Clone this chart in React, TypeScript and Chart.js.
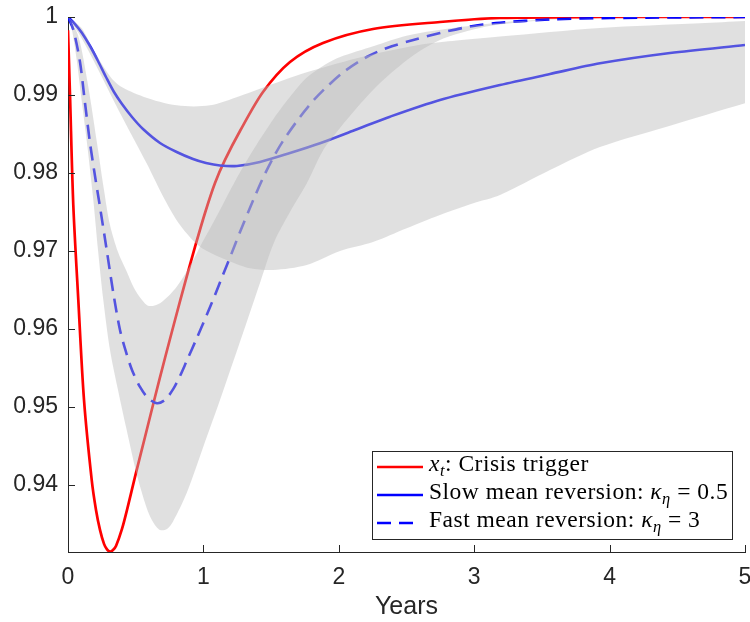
import React, { useEffect, useRef } from 'react';
import { Chart, registerables } from 'chart.js';

Chart.register(...registerables);

// ---- Data ----
// x_t: Crisis trigger
const redT = [0, 0.0148, 0.0391, 0.0761, 0.1182, 0.175, 0.2068, 0.2363, 0.2659, 0.288, 0.31, 0.332, 0.3545, 0.3988, 0.4431, 0.4948, 0.5687, 0.6425, 0.7164, 0.7903, 0.8641, 0.938, 1.0118, 1.0857, 1.1595, 1.2703, 1.4402, 1.6396, 1.8833, 2.2526, 2.7474, 3.1905, 3.929, 5];
const redV = [0.9983, 0.99, 0.9759, 0.96372, 0.9509, 0.94064, 0.93679, 0.93423, 0.93244, 0.93173, 0.93145, 0.93165, 0.93218, 0.93436, 0.93731, 0.94103, 0.94615, 0.95128, 0.95628, 0.96115, 0.9659, 0.97051, 0.97487, 0.97872, 0.98167, 0.98538, 0.99038, 0.99423, 0.99667, 0.99846, 0.99936, 0.99987, 1.0, 1.0];

// Slow mean reversion: kappa_eta = 0.5
const slowT = [0, 0.0517, 0.1034, 0.1625, 0.2216, 0.2806, 0.3397, 0.3988, 0.4727, 0.5539, 0.6795, 0.8028, 0.9232, 1.0192, 1.1226, 1.2482, 1.418, 1.6396, 1.8612, 2.1197, 2.3781, 2.7474, 3.1905, 3.5598, 3.929, 4.4461, 5];
const slowV = [1.0, 0.9991, 0.99795, 0.99628, 0.99436, 0.99231, 0.99038, 0.98885, 0.98718, 0.98564, 0.98385, 0.98269, 0.98179, 0.98128, 0.98096, 0.9809, 0.98141, 0.98256, 0.98381, 0.98551, 0.98722, 0.98936, 0.99128, 0.99269, 0.99406, 0.99538, 0.99641];

// Fast mean reversion: kappa_eta = 3
const fastT = [0, 0.0399, 0.0886, 0.1256, 0.1625, 0.1994, 0.2363, 0.2858, 0.3346, 0.384, 0.4284, 0.4727, 0.5318, 0.5908, 0.6573, 0.7164, 0.7777, 0.8272, 0.8767, 0.9453, 1.0244, 1.0857, 1.147, 1.2038, 1.2703, 1.3685, 1.4402, 1.514, 1.5879, 1.7134, 1.8095, 1.9106, 2.0458, 2.2061, 2.356, 2.5502, 2.7474, 2.9934, 3.1905, 3.5598, 4.003, 5];
const fastV = [1.0, 0.99833, 0.99423, 0.98897, 0.98385, 0.97962, 0.97564, 0.97013, 0.96462, 0.95987, 0.95705, 0.95474, 0.95256, 0.95115, 0.95047, 0.9509, 0.95231, 0.95397, 0.9559, 0.95859, 0.96179, 0.96436, 0.96705, 0.96949, 0.97244, 0.97654, 0.97936, 0.98192, 0.9841, 0.98718, 0.98923, 0.99103, 0.99308, 0.99487, 0.99603, 0.99705, 0.99795, 0.99885, 0.99927, 0.99968, 0.99987, 1.0];

// Band around the slow path
const slowUpT = [0, 0.0997, 0.1869, 0.3102, 0.384, 0.5561, 0.8028, 1.0487, 1.2703, 1.418, 1.763, 2.2001, 2.6196, 2.87, 3.1905, 3.929, 4.6676, 5];
const slowUpV = [1.0, 0.99859, 0.99579, 0.9924, 0.99115, 0.98979, 0.98867, 0.98867, 0.98987, 0.9908, 0.9929, 0.995, 0.9965, 0.997, 0.9975, 0.9986, 0.9992, 0.9995];
const slowLoT = [0, 0.0997, 0.1869, 0.384, 0.5798, 0.7164, 0.8272, 0.9749, 1.1721, 1.3442, 1.514, 1.7629, 2.0089, 2.2526, 2.5015, 2.7474, 2.9934, 3.1905, 3.5598, 3.929, 4.4217, 5];
const slowLoV = [1.0, 0.99731, 0.99449, 0.98769, 0.98128, 0.97654, 0.97333, 0.97055, 0.96885, 0.96778, 0.96756, 0.9682, 0.97, 0.97115, 0.97291, 0.97462, 0.97612, 0.97718, 0.98038, 0.98333, 0.98594, 0.98894];

// Band around the fast path
const fastUpT = [0, 0.0739, 0.1477, 0.2142, 0.2659, 0.3102, 0.3693, 0.4284, 0.4874, 0.5465, 0.5982, 0.6795, 0.8028, 0.9254, 0.9749, 1.1, 1.22, 1.37, 1.52, 1.65, 1.76, 1.9, 2.01, 2.26, 2.5, 2.8, 3.2, 3.6, 4.2, 5];
const fastUpV = [1.0, 0.99769, 0.99128, 0.98385, 0.97782, 0.97333, 0.96987, 0.96756, 0.96526, 0.96372, 0.96295, 0.9633, 0.96542, 0.96885, 0.97055, 0.9745, 0.9785, 0.983, 0.987, 0.99, 0.99218, 0.99391, 0.99487, 0.99628, 0.9976, 0.9985, 0.9993, 0.9997, 0.9999, 1.0];
const fastLoT = [0, 0.0295, 0.0643, 0.1034, 0.1403, 0.1869, 0.2216, 0.2607, 0.3102, 0.3693, 0.4335, 0.5074, 0.5812, 0.6278, 0.6795, 0.7312, 0.7777, 0.8767, 0.9993, 1.1226, 1.2925, 1.418, 1.52, 1.6396, 1.7651, 1.8855, 2.0089, 2.1322, 2.2526, 2.3781, 2.5037, 2.6219, 2.7474, 2.8708, 3.0428, 3.1979, 3.5598, 4.003, 5];
const fastLoV = [1.0, 0.99833, 0.99449, 0.98897, 0.98385, 0.97654, 0.97013, 0.96372, 0.95731, 0.95218, 0.94705, 0.94141, 0.93705, 0.93526, 0.93423, 0.93436, 0.93538, 0.93897, 0.94491, 0.9509, 0.95949, 0.9659, 0.97103, 0.975, 0.97872, 0.98295, 0.98577, 0.98833, 0.99064, 0.99269, 0.99449, 0.9959, 0.99705, 0.99782, 0.99859, 0.99906, 0.99962, 0.99983, 1.0];

const xTicks = [0, 1, 2, 3, 4, 5];
const xTickLabels = ['0', '1', '2', '3', '4', '5'];
const yTicks = [0.94, 0.95, 0.96, 0.97, 0.98, 0.99, 1];
const yTickLabels = ['0.94', '0.95', '0.96', '0.97', '0.98', '0.99', '1'];
const xTitle = 'Years';
const X_MIN = 0;
const X_MAX = 5;
const Y_MIN = 0.9314;
const Y_MAX = 1;

const AXIS = '#262626';
const RED = '#ff0000';
const BLUE = '#0000ff';
const BAND = 'rgba(186,186,186,0.45)';
const SANS = '"Liberation Sans", Arial, Helvetica, sans-serif';
const SERIF = '"Liberation Serif", "Times New Roman", serif';
const TENSION = 0.3;

function pts(t: number[], v: number[]) {
  return t.map((x, i) => ({ x, y: v[i] }));
}

const innerTicks = {
  id: 'innerTicks',
  afterDatasetsDraw(chart: any) {
    const { ctx, chartArea, scales } = chart;
    ctx.save();
    ctx.strokeStyle = AXIS;
    ctx.lineWidth = 1;
    ctx.beginPath();
    xTicks.forEach((v) => {
      const px = Math.round(scales.x.getPixelForValue(v)) + 0.5;
      ctx.moveTo(px, chartArea.bottom);
      ctx.lineTo(px, chartArea.bottom - 7);
    });
    yTicks.forEach((v) => {
      const py = Math.round(scales.y.getPixelForValue(v)) + 0.5;
      ctx.moveTo(chartArea.left, py);
      ctx.lineTo(chartArea.left + 7, py);
    });
    ctx.stroke();
    ctx.restore();
  },
};

const subStyle = { fontSize: '0.7em', verticalAlign: '-0.3em' };

function Legend() {
  const rows = [
    {
      dash: false,
      color: RED,
      text: (
        <span>
          <i>x</i>
          <span style={subStyle}><i>t</i></span>: Crisis trigger
        </span>
      ),
    },
    {
      dash: false,
      color: BLUE,
      text: (
        <span>
          Slow mean reversion: <i>κ</i>
          <span style={subStyle}><i>η</i></span> = 0.5
        </span>
      ),
    },
    {
      dash: true,
      color: BLUE,
      text: (
        <span>
          Fast mean reversion: <i>κ</i>
          <span style={subStyle}><i>η</i></span> = 3
        </span>
      ),
    },
  ];
  return (
    <div
      style={{
        position: 'absolute',
        left: 372,
        top: 451,
        width: 361,
        height: 89,
        boxSizing: 'border-box',
        border: `1px solid ${AXIS}`,
        background: '#ffffff',
        fontFamily: SERIF,
        fontSize: 23.5,
        letterSpacing: '0.5px',
        color: '#000',
      }}
    >
      {rows.map((r, i) => (
        <div
          key={i}
          style={{
            position: 'absolute',
            left: 4,
            top: 1 + i * 28,
            height: 28,
            display: 'flex',
            alignItems: 'center',
            whiteSpace: 'nowrap',
          }}
        >
          <svg width={46} height={28} style={{ flex: 'none' }}>
            <line
              x1={0}
              y1={14}
              x2={r.dash ? 37 : 46}
              y2={14}
              stroke={r.color}
              strokeWidth={2.6}
              strokeDasharray={r.dash ? '14 8' : undefined}
            />
          </svg>
          <div style={{ marginLeft: 6, lineHeight: '28px' }}>{r.text}</div>
        </div>
      ))}
    </div>
  );
}

export default function App() {
  const ref = useRef<HTMLCanvasElement | null>(null);

  useEffect(() => {
    if (!ref.current) return;
    const lineCommon = {
      pointRadius: 0,
      pointHoverRadius: 0,
      tension: TENSION,
      fill: false,
    };
    const bandEdge = {
      pointRadius: 0,
      pointHoverRadius: 0,
      tension: TENSION,
      borderWidth: 0,
      borderColor: 'rgba(0,0,0,0)',
    };
    const chart = new Chart(ref.current, {
      type: 'line',
      data: {
        datasets: [
          { ...bandEdge, label: 'slow band upper', data: pts(slowUpT, slowUpV), fill: '+1', backgroundColor: BAND, order: 1 },
          { ...bandEdge, label: 'slow band lower', data: pts(slowLoT, slowLoV), fill: false, order: 1 },
          { ...bandEdge, label: 'fast band upper', data: pts(fastUpT, fastUpV), fill: '+1', backgroundColor: BAND, order: 0 },
          { ...bandEdge, label: 'fast band lower', data: pts(fastLoT, fastLoV), fill: false, order: 0 },
          { ...lineCommon, label: 'x_t: Crisis trigger', data: pts(redT, redV), borderColor: RED, borderWidth: 2.7, order: 4 },
          { ...lineCommon, label: 'Slow mean reversion', data: pts(slowT, slowV), borderColor: BLUE, borderWidth: 2.6, order: 3 },
          { ...lineCommon, label: 'Fast mean reversion', data: pts(fastT, fastV), borderColor: BLUE, borderWidth: 2.6, borderDash: [14, 8], order: 2 },
        ] as any,
      },
      options: {
        animation: false,
        responsive: false,
        devicePixelRatio: 1,
        events: [],
        layout: { padding: { top: 17, right: 5, left: 0, bottom: 0 } },
        plugins: {
          legend: { display: false },
          tooltip: { enabled: false },
        },
        scales: {
          x: {
            type: 'linear',
            min: X_MIN,
            max: X_MAX,
            afterBuildTicks: (s: any) => {
              s.ticks = xTicks.map((v) => ({ value: v }));
            },
            afterFit: (s: any) => {
              s.height = 70;
              s.paddingLeft = 0;
              s.paddingRight = 0;
            },
            ticks: {
              callback: (_v: any, i: number) => xTickLabels[i],
              font: { family: SANS, size: 23 },
              color: AXIS,
              padding: 12,
              maxRotation: 0,
              autoSkip: false,
            },
            grid: { display: false, drawTicks: false },
            border: { display: true, color: AXIS, width: 1 },
            title: {
              display: true,
              text: xTitle,
              font: { family: SANS, size: 25 },
              color: AXIS,
              padding: { top: 0, bottom: 0 },
            },
          },
          y: {
            type: 'linear',
            min: Y_MIN,
            max: Y_MAX,
            afterBuildTicks: (s: any) => {
              s.ticks = yTicks.map((v) => ({ value: v }));
            },
            afterFit: (s: any) => {
              s.width = 68;
              s.paddingTop = 0;
              s.paddingBottom = 0;
            },
            ticks: {
              callback: (_v: any, i: number) => yTickLabels[i],
              font: { family: SANS, size: 23 },
              color: AXIS,
              padding: 10,
              autoSkip: false,
            },
            grid: { display: false, drawTicks: false },
            border: { display: true, color: AXIS, width: 1 },
          },
        },
      } as any,
      plugins: [innerTicks],
    });
    return () => chart.destroy();
  }, []);

  return (
    <div style={{ position: 'absolute', left: 0, top: 0, width: 750, height: 622, background: '#fff' }}>
      <canvas ref={ref} width={750} height={622} style={{ display: 'block' }} />
      <Legend />
    </div>
  );
}
